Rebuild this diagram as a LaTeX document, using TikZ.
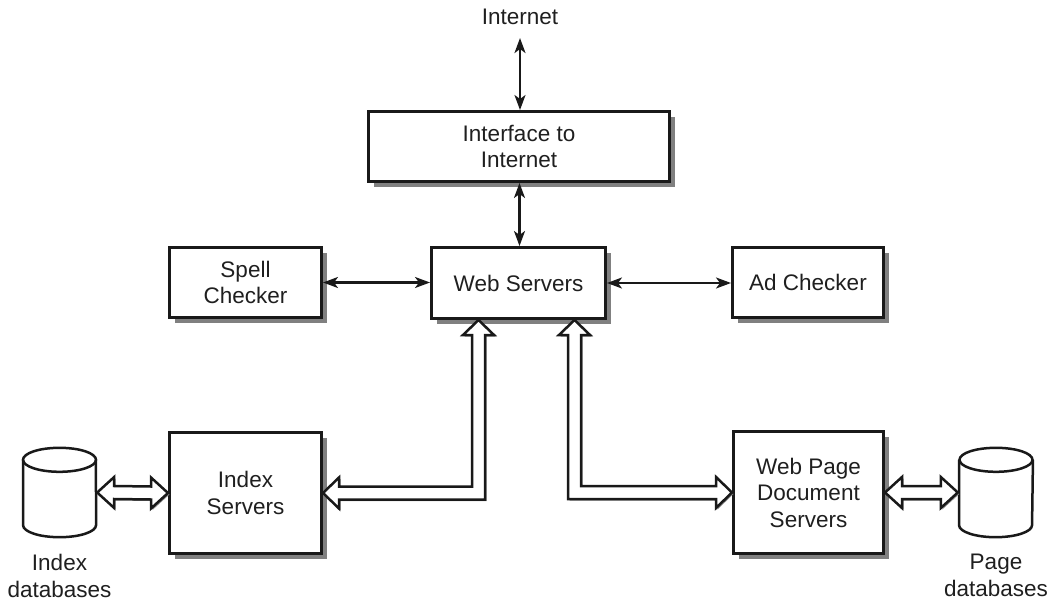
\documentclass[tikz,border=0pt]{standalone}
\usepackage{fontspec}
\setmainfont{Liberation Sans}
\usetikzlibrary{arrows.meta,calc,shadows}
\begin{document}
\begin{tikzpicture}[x=1pt,y=-1pt,
  txt/.style={font=\fontsize{22.5}{26.5}\selectfont, text=black!88, align=center},
  box/.style={txt, draw=black!90, line width=3pt, fill=white, inner sep=0pt,
    drop shadow={shadow xshift=5pt, shadow yshift=-5pt, fill=black!50, opacity=1}},
  thinarrow/.style={draw=black!90, line width=2.2pt,
    {Stealth[length=15pt,width=11pt,inset=4pt]}-{Stealth[length=15pt,width=11pt,inset=4pt]}},
  hollow/.style={draw=black!90, line width=2.5pt, fill=white, line join=miter,
    drop shadow={shadow xshift=1.5pt, shadow yshift=-1.5pt, fill=black!45, opacity=1}},
  dbline/.style={draw=black!90, line width=2.5pt}
]
\useasboundingbox (0,0) rectangle (1050,602);

% labels
\node[txt, inner sep=0pt] (inet) at (520,17) {Internet};

% boxes
\node[box, minimum width=301, minimum height=70] (iface) at (519,146.5) {Interface to\\Internet};
\node[box, minimum width=174, minimum height=71] (ws) at (518.5,283) {Web Servers};
\node[box, minimum width=152, minimum height=70] (spell) at (245.5,282.5) {Spell\\Checker};
\node[box, minimum width=151, minimum height=70] (ad) at (808,282.5) {Ad Checker};
\node[box, minimum width=152, minimum height=121] (is) at (245.5,493) {Index\\Servers};
\node[box, minimum width=150, minimum height=122] (wpds) at (808.5,492.5) {Web Page\\Document\\Servers};

% databases (cylinders)
\node[minimum width=75, minimum height=91, inner sep=0pt] (db1) at (59.5,492.5) {};
\node[minimum width=76, minimum height=91, inner sep=0pt] (db2) at (996,492.5) {};
\foreach \d in {db1,db2}{
  \draw[dbline, fill=white] ($(\d.north west)+(1.25,13)$) -- ($(\d.south west)+(1.25,-13)$)
     arc[start angle=180, end angle=360, x radius=36.5pt, y radius=12pt]
     -- ($(\d.north east)+(-1.25,13)$);
  \draw[dbline] ($(\d.north)+(0,13)$) ellipse [x radius=36.5pt, y radius=12pt];
}
\node[txt, inner sep=0pt, anchor=north] (lbl1) at ($(db1.south)+(0,16)$) {Index\\databases};
\node[txt, inner sep=0pt, anchor=north] (lbl2) at ($(db2.south)+(0,16)$) {Page\\databases};

% thin arrows
\draw[thinarrow] ([yshift=-13pt]inet.south) -- (inet.south |- iface.north);
\draw[thinarrow] ([xshift=0.5pt]iface.south) -- ([xshift=0.5pt]iface.south |- ws.north);
\draw[thinarrow] (spell.east) -- (spell.east -| ws.west);
\draw[thinarrow] (ws.east) -- (ws.east -| ad.west);

% hollow arrows
\coordinate (t1) at (is.east);
\coordinate (t2) at ($(ws.south west)+(48.5,0)$);
\coordinate (t3) at (wpds.west);
\coordinate (t4) at ($(ws.south west)+(144.5,0)$);

\path[hollow] (t1) -- ++(16,-15.5) -- ++(0,9) -- ($(t2 |- t1)+(-6.5,-6.5)$)
  -- ($(t2)+(-6.5,15)$) -- ++(-9,0) -- (t2) -- ++(15.5,15) -- ++(-9,0)
  -- ($(t2 |- t1)+(6.5,6.5)$) -- ($(t1)+(16,6.5)$) -- ++(0,9) -- cycle;

\path[hollow] (t3) -- ++(-16,-15.5) -- ++(0,9) -- ($(t4 |- t3)+(6.5,-6.5)$)
  -- ($(t4)+(6.5,15)$) -- ++(9,0) -- (t4) -- ++(-15.5,15) -- ++(9,0)
  -- ($(t4 |- t3)+(-6.5,6.5)$) -- ($(t3)+(-16,6.5)$) -- ++(0,9) -- cycle;

\path[hollow] (db1.east) -- ++(17,-15.5) -- ++(0,9) -- ($(is.west)+(-17,-6.5)$)
  -- ++(0,-9) -- (is.west) -- ++(-17,15.5) -- ++(0,-9)
  -- ($(db1.east)+(17,6.5)$) -- ++(0,9) -- cycle;

\path[hollow] (wpds.east) -- ++(17,-15.5) -- ++(0,9) -- ($(db2.west)+(-17,-6.5)$)
  -- ++(0,-9) -- (db2.west) -- ++(-17,15.5) -- ++(0,-9)
  -- ($(wpds.east)+(17,6.5)$) -- ++(0,9) -- cycle;
\end{tikzpicture}
\end{document}
